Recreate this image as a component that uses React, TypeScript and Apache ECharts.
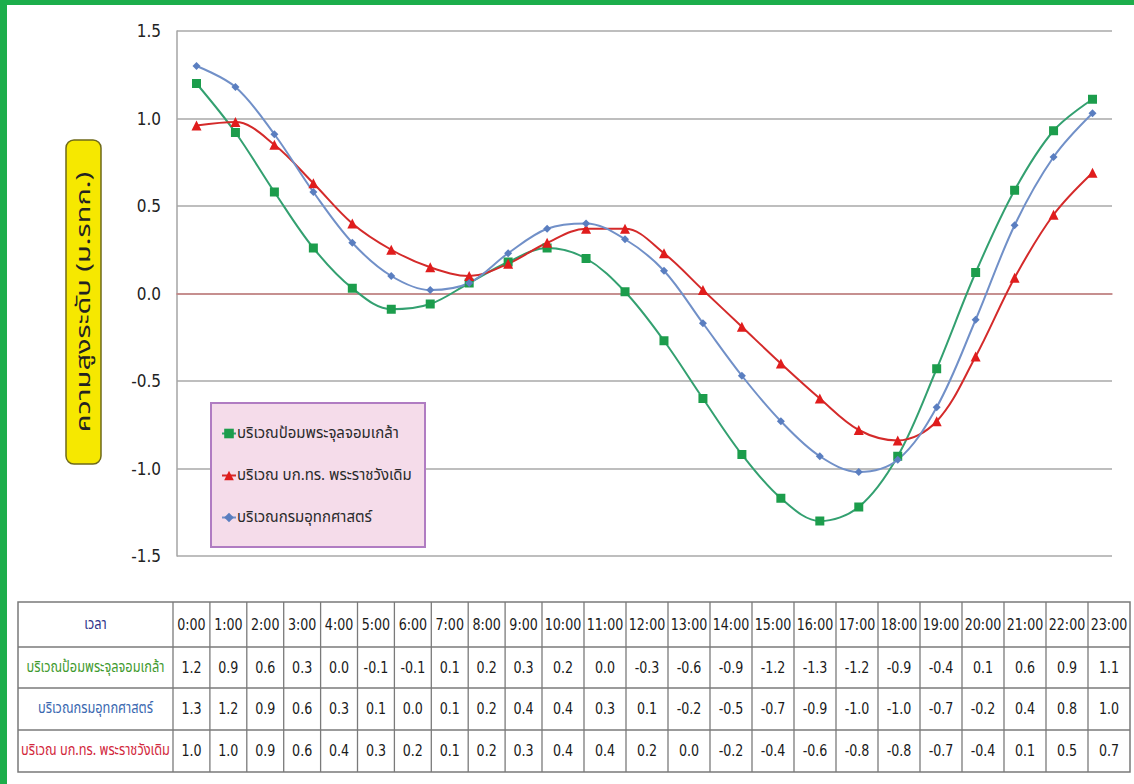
import React, { useEffect, useRef } from 'react';
import * as echarts from 'echarts';

const HOURS = ['0:00', '1:00', '2:00', '3:00', '4:00', '5:00', '6:00', '7:00', '8:00', '9:00', '10:00', '11:00',
  '12:00', '13:00', '14:00', '15:00', '16:00', '17:00', '18:00', '19:00', '20:00', '21:00', '22:00', '23:00'];

const NAME_GREEN = 'บริเวณป้อมพระจุลจอมเกล้า';
const NAME_RED = 'บริเวณ บก.ทร. พระราชวังเดิม';
const NAME_BLUE = 'บริเวณกรมอุทกศาสตร์';

// values
const PLOT_GREEN = [1.20, 0.92, 0.58, 0.26, 0.03, -0.09, -0.06, 0.06, 0.18, 0.26, 0.20, 0.01,
  -0.27, -0.60, -0.92, -1.17, -1.30, -1.22, -0.93, -0.43, 0.12, 0.59, 0.93, 1.11];
const PLOT_RED = [0.96, 0.98, 0.85, 0.63, 0.40, 0.25, 0.15, 0.10, 0.17, 0.29, 0.37, 0.37,
  0.23, 0.02, -0.19, -0.40, -0.60, -0.78, -0.84, -0.73, -0.36, 0.09, 0.45, 0.69];
const PLOT_BLUE = [1.30, 1.18, 0.91, 0.58, 0.29, 0.10, 0.02, 0.06, 0.23, 0.37, 0.40, 0.31,
  0.13, -0.17, -0.47, -0.73, -0.93, -1.02, -0.95, -0.65, -0.15, 0.39, 0.78, 1.03];

// values printed in the table
const TABLE_HEADER = 'เวลา';
const TABLE_GREEN = [1.2, 0.9, 0.6, 0.3, 0.0, -0.1, -0.1, 0.1, 0.2, 0.3, 0.2, 0.0,
  -0.3, -0.6, -0.9, -1.2, -1.3, -1.2, -0.9, -0.4, 0.1, 0.6, 0.9, 1.1];
const TABLE_BLUE = [1.3, 1.2, 0.9, 0.6, 0.3, 0.1, 0.0, 0.1, 0.2, 0.4, 0.4, 0.3,
  0.1, -0.2, -0.5, -0.7, -0.9, -1.0, -1.0, -0.7, -0.2, 0.4, 0.8, 1.0];
const TABLE_RED = [1.0, 1.0, 0.9, 0.6, 0.4, 0.3, 0.2, 0.1, 0.2, 0.3, 0.4, 0.4,
  0.2, 0.0, -0.2, -0.4, -0.6, -0.8, -0.8, -0.7, -0.4, 0.1, 0.5, 0.7];

const Y_MIN = -1.5;
const Y_MAX = 1.5;
const Y_INTERVAL = 0.5;
const Y_NAME = 'ความสูงระดับ (ม.รทก.)';

const NUM_FONT = '"Liberation Sans Narrow", "DejaVu Sans Condensed", "Roboto", sans-serif';
const THAI_FONT = '"Noto Sans Thai", "Noto Sans", "Loma", "Garuda", "Tlwg Typist", sans-serif';

const GREEN_M = '#1c9d4c';
const GREEN_L = '#33a070';
const RED_M = '#e01c1c';
const RED_L = '#d42a2a';
const BLUE_M = '#5a7ec0';
const BLUE_L = '#7190c8';

function buildTable(): any[] {
  const els: any[] = [];
  const x0 = 18;
  const y0 = 602;
  const firstW = 155;
  const colW = HOURS.map((h) => (h.length > 4 ? 42 : 36.9));
  const rowH = [45, 41, 42, 42];
  const xs = [x0, x0 + firstW];
  colW.forEach((w) => xs.push(xs[xs.length - 1] + w));
  const ys = [y0];
  rowH.forEach((h) => ys.push(ys[ys.length - 1] + h));
  const xEnd = xs[xs.length - 1];
  const yEnd = ys[ys.length - 1];
  const stroke = '#7a7a7a';
  els.push({
    type: 'rect', z: 1,
    shape: { x: x0, y: y0, width: xEnd - x0, height: yEnd - y0 },
    style: { fill: '#ffffff', stroke, lineWidth: 1.5 },
  });
  xs.slice(1, -1).forEach((x) => els.push({
    type: 'line', z: 2, shape: { x1: x, y1: y0, x2: x, y2: yEnd }, style: { stroke, lineWidth: 1.3 },
  }));
  ys.slice(1, -1).forEach((y) => els.push({
    type: 'line', z: 2, shape: { x1: x0, y1: y, x2: xEnd, y2: y }, style: { stroke, lineWidth: 1.3 },
  }));
  const rows = [
    { label: TABLE_HEADER, color: '#30348a', cells: HOURS },
    { label: NAME_GREEN, color: '#3f9a2e', cells: TABLE_GREEN.map((v) => v.toFixed(1)) },
    { label: NAME_BLUE, color: '#3a68b0', cells: TABLE_BLUE.map((v) => v.toFixed(1)) },
    { label: NAME_RED, color: '#d2283c', cells: TABLE_RED.map((v) => v.toFixed(1)) },
  ];
  rows.forEach((r, ri) => {
    const cy = (ys[ri] + ys[ri + 1]) / 2;
    els.push({
      type: 'text', z: 3, x: (xs[0] + xs[1]) / 2, y: cy, scaleX: 0.8,
      style: {
        text: r.label, fill: r.color, fontSize: 16, fontFamily: THAI_FONT,
        align: 'center', verticalAlign: 'middle', textAlign: 'center', textVerticalAlign: 'middle',
      },
    });
    r.cells.forEach((c, ci) => {
      els.push({
        type: 'text', z: 3, x: (xs[ci + 1] + xs[ci + 2]) / 2, y: cy, scaleX: 0.88,
        style: {
          text: c, fill: '#1a1a1a', fontSize: 16, fontFamily: NUM_FONT,
          align: 'center', verticalAlign: 'middle', textAlign: 'center', textVerticalAlign: 'middle',
        },
      });
    });
  });
  return els;
}

export default function App() {
  const ref = useRef<HTMLDivElement>(null);
  useEffect(() => {
    if (!ref.current) return;
    const chart = echarts.init(ref.current, null, { renderer: 'svg' });
    const seriesDefs = [
      { name: NAME_GREEN, data: PLOT_GREEN, symbol: 'rect', symbolSize: 9, m: GREEN_M, l: GREEN_L },
      { name: NAME_RED, data: PLOT_RED, symbol: 'triangle', symbolSize: 10, m: RED_M, l: RED_L },
      { name: NAME_BLUE, data: PLOT_BLUE, symbol: 'diamond', symbolSize: 8, m: BLUE_M, l: BLUE_L },
    ];
    chart.setOption({
      animation: false,
      backgroundColor: '#ffffff',
      grid: { left: 177, right: 22, top: 31, bottom: 228, containLabel: false },
      xAxis: {
        type: 'category',
        data: HOURS,
        boundaryGap: true,
        axisLabel: { show: false },
        axisTick: { show: false },
        axisLine: { show: true, onZero: true, lineStyle: { color: '#c98080', width: 1.5 } },
        splitLine: { show: false },
      },
      yAxis: {
        type: 'value',
        min: Y_MIN,
        max: Y_MAX,
        interval: Y_INTERVAL,
        axisLine: { show: true, lineStyle: { color: '#a4a4a4', width: 1.5 } },
        axisTick: { show: false },
        splitLine: { show: true, lineStyle: { color: '#a8a8a8', width: 1.5 } },
        axisLabel: {
          formatter: (v: number) => v.toFixed(1),
          fontSize: 17,
          color: '#222222',
          fontFamily: NUM_FONT,
          margin: 16,
        },
      },
      legend: {
        data: [NAME_GREEN, NAME_RED, NAME_BLUE],
        orient: 'vertical',
        left: 221,
        top: 426,
        itemGap: 27,
        itemWidth: 14,
        itemHeight: 12,
        padding: 0,
        z: 10,
        textStyle: { fontSize: 15, color: '#2a2a2a', fontFamily: THAI_FONT, padding: [0, 0, 0, -4] },
      },
      series: seriesDefs.map((s) => ({
        name: s.name,
        type: 'line',
        data: s.data,
        smooth: 0.35,
        symbol: s.symbol,
        symbolSize: s.symbolSize,
        lineStyle: { color: s.l, width: 2 },
        itemStyle: { color: s.m },
        z: 3,
      })),
      graphic: [
        { type: 'rect', z: 0, shape: { x: 0, y: 0, width: 7, height: 784 }, style: { fill: '#1cae4b' } },
        { type: 'rect', z: 0, shape: { x: 0, y: 0, width: 1134, height: 5 }, style: { fill: '#1cae4b' } },
        {
          type: 'rect', z: 5,
          shape: { x: 211, y: 403, width: 214, height: 144 },
          style: { fill: '#f5dcea', stroke: '#b07cc2', lineWidth: 2 },
        },
        {
          type: 'group',
          children: [
            {
              type: 'rect',
              shape: { x: 66, y: 140, width: 35, height: 324, r: 8 },
              style: { fill: '#f6e800', stroke: '#6f6a1a', lineWidth: 1.5 },
            },
            {
              type: 'text', x: 83.5, y: 302, rotation: Math.PI / 2, scaleX: 1.45,
              style: {
                text: Y_NAME, fill: '#222222', fontSize: 20, fontFamily: THAI_FONT,
                align: 'center', verticalAlign: 'middle', textAlign: 'center', textVerticalAlign: 'middle',
              },
            },
          ],
        },
        ...buildTable(),
      ],
    });
    return () => chart.dispose();
  }, []);
  return (
    <div
      ref={ref}
      style={{ position: 'absolute', left: 0, top: 0, width: 1134, height: 784, background: '#ffffff' }}
    />
  );
}
